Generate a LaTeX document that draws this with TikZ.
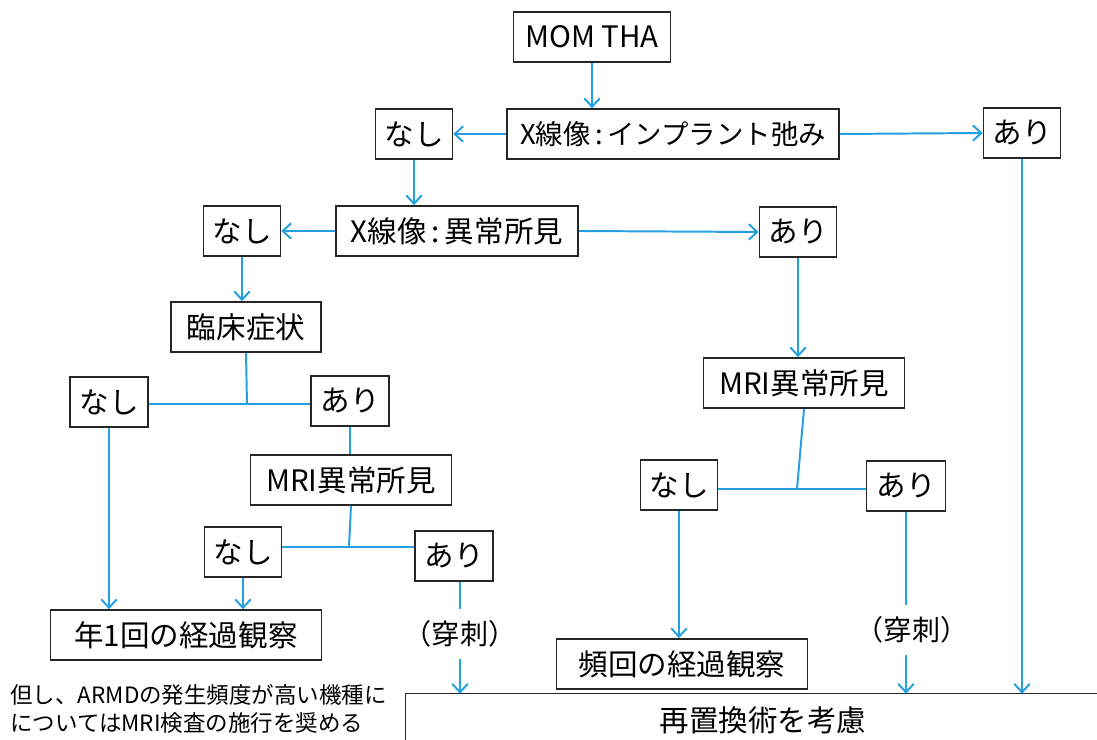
\documentclass[tikz,border=0pt]{standalone}
\usepackage{fontspec}
\setmainfont{Noto Sans CJK JP}
\usetikzlibrary{arrows.meta}
\definecolor{flowblue}{RGB}{35,160,225}
\begin{document}
\begin{tikzpicture}[x=0.025cm,y=-0.025cm,>={Straight Barb[length=6pt,width=11pt]},
	kbox/.style={draw=black!85, line width=1.1pt, minimum height=1.25cm, inner sep=0pt, font=\fontsize{21}{25}\selectfont},
	flow/.style={draw=flowblue, line width=1.4pt},
	punct/.style={inner sep=0pt, minimum height=1.25cm, font=\fontsize{20}{24}\selectfont}]
	\def\kb(#1)(#2)[#3]#4{
		\node[kbox, minimum width=#3*0.025cm](#1) at (#2){#4};}
	\useasboundingbox (0,0) rectangle (1097,740);
	% boxes
	\kb(mom)(592,37)[157]{MOM THA}
	\kb(xloose)(673,134)[332]{\fontsize{19.5}{23}\selectfont X線像\,:\,インプラント弛み}
	\kb(n1)(414,134)[77]{なし}
	\kb(a1)(1022,133)[77]{あり}
	\kb(xabn)(457,231)[242]{X線像\,:\,異常所見}
	\kb(n2)(242,231)[77]{なし}
	\kb(a2)(798,232)[77]{あり}
	\kb(clin)(246,327)[150]{臨床症状}
	\kb(n3)(109,402)[78]{なし}
	\kb(a3)(350,401)[78]{あり}
	\kb(mri1)(351,480)[201]{MRI異常所見}
	\kb(n4)(243,552)[77]{なし}
	\kb(a4)(454,556)[78]{あり}
	\kb(year)(186,635)[271]{年1回の経過観察}
	\kb(mri2)(804,383)[201]{MRI異常所見}
	\kb(n5)(679,485)[77]{なし}
	\kb(a5)(906,486)[79]{あり}
	\kb(freq)(682,664)[251]{頻回の経過観察}
	\node[punct](p1) at (460,634){（穿刺）};
	\node[punct](p2) at (912,630){（穿刺）};
	\node[inner sep=0pt, minimum width=714*0.025cm, minimum height=52*0.025cm, font=\fontsize{21}{25}\selectfont](redo) at (763,720){再置換術を考慮};
	\draw[draw=black!85, line width=1.1pt] (redo.north east) -- (redo.north west) -- (redo.south west);
	\node[anchor=west, align=left, inner sep=0pt, font=\fontsize{16}{20}\selectfont](note) at (10,709){但し、ARMDの発生頻度が高い機種に\\についてはMRI検査の施行を奨める};
	% junctions
	\coordinate (j3) at (247,404);
	\coordinate (j4) at (349,547);
	\coordinate (j5) at (797,489);
	% connectors
	\draw[flow,->] (mom.south) -- (mom.south |- xloose.north);
	\draw[flow,->] (xloose.west) -- (n1.east);
	\draw[flow,->] (xloose.east) -- (a1.west);
	\draw[flow,->] (n1.south) -- (n1.south |- xabn.north);
	\draw[flow,->] (xabn.west) -- (n2.east);
	\draw[flow,->] (xabn.east) -- (a2.west);
	\draw[flow,->] (n2.south) -- (n2.south |- clin.north);
	\draw[flow] (clin.south) -- (j3);
	\draw[flow] (n3.east |- j3) -- (a3.west |- j3);
	\draw[flow] (a3.south) -- (a3.south |- mri1.north);
	\draw[flow] (mri1.south) -- (j4);
	\draw[flow] (n4.east |- j4) -- (a4.west |- j4);
	\draw[flow,->] (n3.south) -- (n3.south |- year.north);
	\draw[flow,->] (n4.south) -- (n4.south |- year.north);
	\draw[flow] (p1 |- a4.south) -- (p1.north);
	\draw[flow,->] (p1.south) -- (p1.south |- redo.north);
	\draw[flow,->] (a2.south) -- (a2.south |- mri2.north);
	\draw[flow] (mri2.south) -- (j5);
	\draw[flow] (n5.east |- j5) -- (a5.west |- j5);
	\draw[flow,->] (n5.south) -- (n5.south |- freq.north);
	\draw[flow] (a5.south) -- (a5.south |- p2.north);
	\draw[flow,->] (a5.south |- p2.south) -- (a5.south |- redo.north);
	\draw[flow,->] (a1.south) -- (a1.south |- redo.north);
\end{tikzpicture}
\end{document}
